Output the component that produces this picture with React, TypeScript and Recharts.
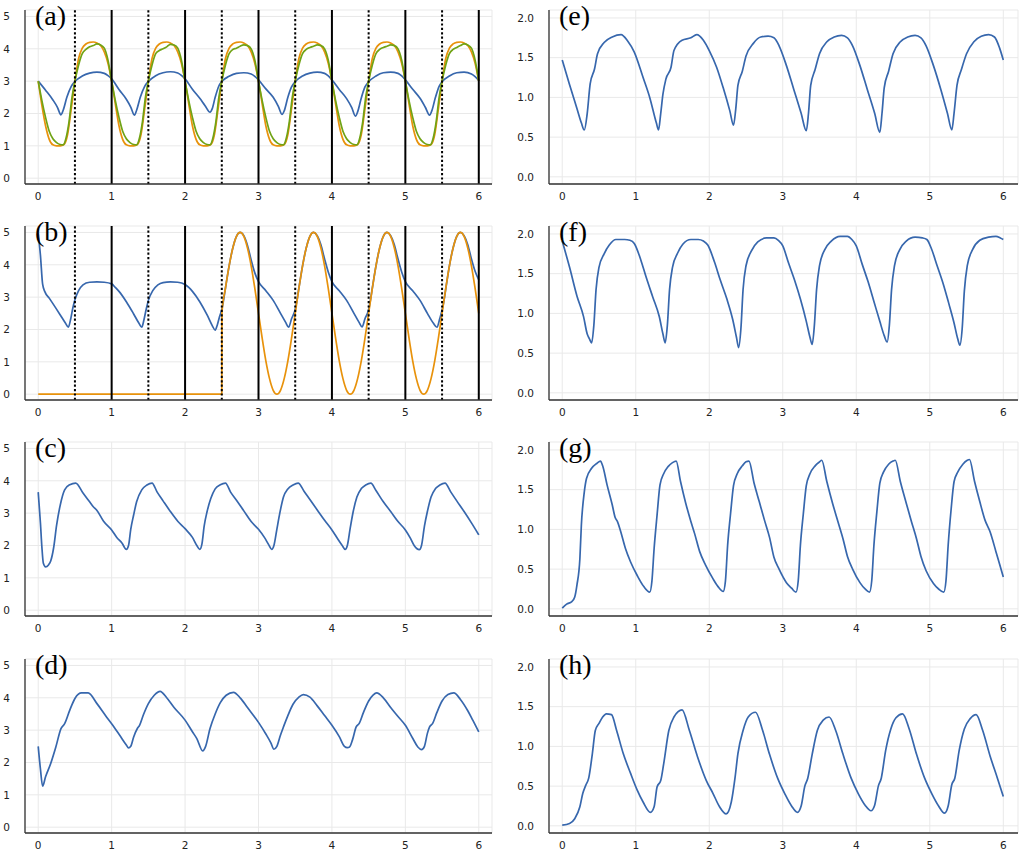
import React from 'react';
import { LineChart, Line, XAxis, YAxis, CartesianGrid, ReferenceLine } from 'recharts';

type P = [number, number];

const X_TICKS = [0, 1, 2, 3, 4, 5, 6];
const Y_TICKS_LEFT = [0, 1, 2, 3, 4, 5];
const Y_TICKS_RIGHT = [0, 0.5, 1, 1.5, 2];
const SOLID_LINES = [1, 2, 3, 4, 5, 6];
const DOTTED_LINES = [0.5, 1.5, 2.5, 3.5, 4.5, 5.5];

const BLUE = '#3767ad';
const ORANGE = '#e8920b';
const GREEN = '#70a315';

const A_BLUE: P[] = [
  [0, 3.0], [0.1, 2.72], [0.2, 2.42], [0.26, 2.2], [0.31, 1.96], [0.34, 2.1], [0.39, 2.5], [0.45, 2.84], [0.5, 2.99], [0.6, 3.16], [0.7, 3.25], [0.8, 3.28], [0.9, 3.24], [0.95, 3.17],
  [1.0, 3.07], [1.1, 2.74], [1.2, 2.44], [1.26, 2.2], [1.31, 1.95], [1.34, 2.1], [1.39, 2.5], [1.45, 2.84], [1.5, 2.99], [1.6, 3.17], [1.7, 3.26], [1.8, 3.29], [1.9, 3.25], [1.95, 3.18],
  [2.0, 3.07], [2.1, 2.75], [2.2, 2.47], [2.27, 2.25], [2.34, 2.04], [2.37, 2.15], [2.41, 2.5], [2.46, 2.85], [2.5, 2.99], [2.6, 3.15], [2.7, 3.24], [2.8, 3.26], [2.9, 3.22], [2.95, 3.15],
  [3.0, 3.04], [3.1, 2.76], [3.2, 2.5], [3.27, 2.22], [3.32, 1.97], [3.35, 2.08], [3.4, 2.5], [3.45, 2.82], [3.5, 2.98], [3.6, 3.16], [3.7, 3.25], [3.8, 3.28], [3.9, 3.24], [3.95, 3.16],
  [4.0, 3.04], [4.1, 2.74], [4.2, 2.46], [4.27, 2.18], [4.32, 1.92], [4.35, 2.05], [4.4, 2.48], [4.45, 2.82], [4.5, 2.98], [4.6, 3.16], [4.7, 3.26], [4.8, 3.28], [4.9, 3.24], [4.95, 3.16],
  [5.0, 3.04], [5.1, 2.75], [5.2, 2.47], [5.27, 2.2], [5.33, 1.95], [5.36, 2.08], [5.41, 2.5], [5.46, 2.84], [5.5, 2.98], [5.6, 3.16], [5.7, 3.26], [5.8, 3.28], [5.9, 3.22], [5.95, 3.14], [6.0, 3.02],
];

const A_ORANGE: P[] = [
  [0, 3.0], [0.05, 2.25], [0.1, 1.62], [0.15, 1.2], [0.2, 1.03], [0.25, 1.0], [0.3, 1.0], [0.35, 1.04], [0.4, 1.35], [0.45, 2.15], [0.5, 3.0], [0.55, 3.7], [0.6, 4.02], [0.65, 4.15], [0.7, 4.2], [0.75, 4.21], [0.8, 4.18], [0.85, 4.1], [0.9, 3.9], [0.95, 3.55],
  [1.0, 3.0], [1.05, 2.3], [1.1, 1.62], [1.15, 1.2], [1.2, 1.03], [1.25, 1.0], [1.3, 1.0], [1.35, 1.04], [1.4, 1.35], [1.45, 2.15], [1.5, 3.0], [1.55, 3.7], [1.6, 4.02], [1.65, 4.15], [1.7, 4.2], [1.75, 4.21], [1.8, 4.18], [1.85, 4.1], [1.9, 3.9], [1.95, 3.55],
  [2.0, 3.0], [2.05, 2.3], [2.1, 1.62], [2.15, 1.2], [2.2, 1.03], [2.25, 1.0], [2.3, 1.0], [2.35, 1.04], [2.4, 1.35], [2.45, 2.15], [2.5, 3.0], [2.55, 3.7], [2.6, 4.02], [2.65, 4.15], [2.7, 4.2], [2.75, 4.21], [2.8, 4.18], [2.85, 4.1], [2.9, 3.9], [2.95, 3.55],
  [3.0, 3.0], [3.05, 2.3], [3.1, 1.62], [3.15, 1.2], [3.2, 1.03], [3.25, 1.0], [3.3, 1.0], [3.35, 1.04], [3.4, 1.35], [3.45, 2.15], [3.5, 3.0], [3.55, 3.7], [3.6, 4.02], [3.65, 4.15], [3.7, 4.2], [3.75, 4.21], [3.8, 4.18], [3.85, 4.1], [3.9, 3.9], [3.95, 3.55],
  [4.0, 3.0], [4.05, 2.3], [4.1, 1.62], [4.15, 1.2], [4.2, 1.03], [4.25, 1.0], [4.3, 1.0], [4.35, 1.04], [4.4, 1.35], [4.45, 2.15], [4.5, 3.0], [4.55, 3.7], [4.6, 4.02], [4.65, 4.15], [4.7, 4.2], [4.75, 4.21], [4.8, 4.18], [4.85, 4.1], [4.9, 3.9], [4.95, 3.55],
  [5.0, 3.0], [5.05, 2.3], [5.1, 1.62], [5.15, 1.2], [5.2, 1.03], [5.25, 1.0], [5.3, 1.0], [5.35, 1.04], [5.4, 1.35], [5.45, 2.15], [5.5, 3.0], [5.55, 3.7], [5.6, 4.02], [5.65, 4.15], [5.7, 4.2], [5.75, 4.21], [5.8, 4.18], [5.85, 4.1], [5.9, 3.9], [5.95, 3.55], [6.0, 3.0],
];

const A_GREEN: P[] = [
  [0, 3.0], [0.05, 2.4], [0.1, 1.88], [0.15, 1.45], [0.2, 1.22], [0.25, 1.1], [0.3, 1.04], [0.34, 1.03], [0.38, 1.25], [0.42, 1.75], [0.46, 2.5], [0.5, 3.0], [0.55, 3.5], [0.6, 3.85], [0.65, 3.98], [0.7, 4.06], [0.75, 4.1], [0.8, 4.15], [0.85, 4.12], [0.9, 4.02], [0.95, 3.65],
  [1.0, 3.0], [1.05, 2.4], [1.1, 1.88], [1.15, 1.45], [1.2, 1.22], [1.25, 1.1], [1.3, 1.04], [1.34, 1.03], [1.38, 1.25], [1.42, 1.75], [1.46, 2.5], [1.5, 3.0], [1.55, 3.5], [1.6, 3.85], [1.65, 3.95], [1.7, 4.0], [1.75, 4.06], [1.8, 4.14], [1.85, 4.12], [1.9, 4.02], [1.95, 3.65],
  [2.0, 3.0], [2.05, 2.4], [2.1, 1.88], [2.15, 1.45], [2.2, 1.22], [2.25, 1.1], [2.3, 1.04], [2.34, 1.03], [2.38, 1.25], [2.42, 1.75], [2.46, 2.5], [2.5, 3.0], [2.55, 3.5], [2.6, 3.85], [2.65, 3.98], [2.7, 4.02], [2.75, 4.08], [2.8, 4.12], [2.85, 4.1], [2.9, 4.0], [2.95, 3.65],
  [3.0, 3.0], [3.05, 2.4], [3.1, 1.88], [3.15, 1.45], [3.2, 1.22], [3.25, 1.1], [3.3, 1.04], [3.34, 1.03], [3.38, 1.25], [3.42, 1.75], [3.46, 2.5], [3.5, 3.0], [3.55, 3.5], [3.6, 3.85], [3.65, 3.98], [3.7, 4.04], [3.75, 4.08], [3.8, 4.12], [3.85, 4.1], [3.9, 4.0], [3.95, 3.65],
  [4.0, 3.0], [4.05, 2.4], [4.1, 1.88], [4.15, 1.45], [4.2, 1.22], [4.25, 1.1], [4.3, 1.04], [4.34, 1.03], [4.38, 1.25], [4.42, 1.75], [4.46, 2.5], [4.5, 3.0], [4.55, 3.5], [4.6, 3.85], [4.65, 3.98], [4.7, 4.04], [4.75, 4.08], [4.8, 4.12], [4.85, 4.1], [4.9, 4.0], [4.95, 3.65],
  [5.0, 3.0], [5.05, 2.4], [5.1, 1.88], [5.15, 1.45], [5.2, 1.22], [5.25, 1.1], [5.3, 1.04], [5.34, 1.03], [5.38, 1.25], [5.42, 1.75], [5.46, 2.5], [5.5, 3.0], [5.55, 3.5], [5.6, 3.85], [5.65, 3.98], [5.7, 4.04], [5.75, 4.1], [5.8, 4.15], [5.85, 4.12], [5.9, 4.02], [5.95, 3.65], [6.0, 3.0],
];

const B_BLUE: P[] = [
  [0, 4.97], [0.03, 4.3], [0.06, 3.4], [0.09, 3.17], [0.15, 2.97], [0.2, 2.8], [0.3, 2.45], [0.37, 2.2], [0.41, 2.07], [0.44, 2.3], [0.47, 2.65], [0.5, 2.92], [0.55, 3.2], [0.61, 3.38], [0.7, 3.46], [0.8, 3.47], [0.9, 3.46], [1.0, 3.41],
  [1.05, 3.3], [1.1, 3.18], [1.2, 2.86], [1.3, 2.48], [1.37, 2.2], [1.41, 2.07], [1.44, 2.3], [1.47, 2.62], [1.5, 2.9], [1.56, 3.2], [1.63, 3.38], [1.7, 3.45], [1.8, 3.47], [1.9, 3.46], [2.0, 3.39],
  [2.05, 3.3], [2.1, 3.18], [2.2, 2.86], [2.3, 2.45], [2.37, 2.12], [2.41, 1.98], [2.44, 2.15], [2.47, 2.4], [2.5, 2.62],
  [2.52, 2.85], [2.55, 3.28], [2.6, 3.97], [2.65, 4.52], [2.7, 4.88], [2.75, 5.0], [2.8, 4.9], [2.85, 4.6], [2.9, 4.15], [2.95, 3.75], [3.0, 3.48],
  [3.1, 3.2], [3.2, 2.9], [3.3, 2.5], [3.37, 2.22], [3.41, 2.07], [3.45, 2.33], [3.5, 2.62], [3.52, 2.85], [3.55, 3.28], [3.6, 3.97], [3.65, 4.52], [3.7, 4.88], [3.75, 5.0], [3.8, 4.9], [3.85, 4.62], [3.9, 4.18], [3.95, 3.78], [4.0, 3.48],
  [4.1, 3.2], [4.2, 2.9], [4.3, 2.5], [4.37, 2.22], [4.41, 2.08], [4.45, 2.33], [4.5, 2.62], [4.52, 2.85], [4.55, 3.28], [4.6, 3.97], [4.65, 4.52], [4.7, 4.88], [4.75, 5.0], [4.8, 4.9], [4.85, 4.62], [4.9, 4.18], [4.95, 3.78], [5.0, 3.48],
  [5.1, 3.2], [5.2, 2.9], [5.3, 2.5], [5.38, 2.2], [5.43, 2.07], [5.47, 2.35], [5.51, 2.7], [5.53, 2.95], [5.56, 3.4], [5.6, 3.97], [5.65, 4.52], [5.7, 4.88], [5.75, 5.0], [5.8, 4.9], [5.85, 4.62], [5.9, 4.18], [5.95, 3.8], [6.0, 3.53],
];

const B_ORANGE: P[] = [
  [0, 0], [2.5, 0], [2.502, 2.52], [2.55, 3.28], [2.6, 3.97], [2.65, 4.52], [2.7, 4.88], [2.75, 5.0], [2.8, 4.88], [2.85, 4.52], [2.9, 3.97], [2.95, 3.27],
  [3.0, 2.5], [3.05, 1.73], [3.1, 1.03], [3.15, 0.48], [3.2, 0.12], [3.25, 0.0], [3.3, 0.12], [3.35, 0.48], [3.4, 1.03], [3.45, 1.73], [3.5, 2.5], [3.55, 3.27], [3.6, 3.97], [3.65, 4.52], [3.7, 4.88], [3.75, 5.0], [3.8, 4.88], [3.85, 4.52], [3.9, 3.97], [3.95, 3.27],
  [4.0, 2.5], [4.05, 1.73], [4.1, 1.03], [4.15, 0.48], [4.2, 0.12], [4.25, 0.0], [4.3, 0.12], [4.35, 0.48], [4.4, 1.03], [4.45, 1.73], [4.5, 2.5], [4.55, 3.27], [4.6, 3.97], [4.65, 4.52], [4.7, 4.88], [4.75, 5.0], [4.8, 4.88], [4.85, 4.52], [4.9, 3.97], [4.95, 3.27],
  [5.0, 2.5], [5.05, 1.73], [5.1, 1.03], [5.15, 0.48], [5.2, 0.12], [5.25, 0.0], [5.3, 0.12], [5.35, 0.48], [5.4, 1.03], [5.45, 1.73], [5.5, 2.5], [5.55, 3.27], [5.6, 3.97], [5.65, 4.52], [5.7, 4.88], [5.75, 5.0], [5.8, 4.88], [5.85, 4.52], [5.9, 3.97], [5.95, 3.27], [6.0, 2.5],
];

const C_BLUE: P[] = [
  [0, 3.65], [0.03, 2.7], [0.05, 1.95], [0.07, 1.45], [0.1, 1.34], [0.14, 1.4], [0.17, 1.52], [0.21, 1.93], [0.25, 2.62], [0.3, 3.25], [0.36, 3.72], [0.43, 3.88], [0.51, 3.93], [0.61, 3.62], [0.7, 3.35], [0.75, 3.2], [0.8, 3.08], [0.89, 2.75], [1.0, 2.48], [1.07, 2.25], [1.14, 2.08], [1.2, 1.88],
  [1.23, 2.0], [1.26, 2.5], [1.3, 2.95], [1.34, 3.35], [1.41, 3.72], [1.48, 3.87], [1.55, 3.93], [1.62, 3.65], [1.7, 3.38], [1.8, 3.05], [1.9, 2.75], [2.0, 2.52], [2.1, 2.25], [2.16, 2.0], [2.2, 1.88],
  [2.23, 2.05], [2.26, 2.6], [2.3, 3.05], [2.35, 3.45], [2.41, 3.75], [2.48, 3.88], [2.55, 3.93], [2.62, 3.65], [2.7, 3.4], [2.8, 3.07], [2.9, 2.74], [3.0, 2.5], [3.08, 2.25], [3.14, 2.02], [3.18, 1.88],
  [3.21, 2.0], [3.25, 2.5], [3.29, 3.0], [3.34, 3.5], [3.4, 3.75], [3.47, 3.87], [3.54, 3.93], [3.62, 3.68], [3.7, 3.42], [3.8, 3.1], [3.9, 2.78], [4.0, 2.48], [4.08, 2.2], [4.14, 2.0], [4.18, 1.88],
  [4.21, 2.0], [4.25, 2.55], [4.29, 3.05], [4.34, 3.5], [4.4, 3.76], [4.46, 3.87], [4.53, 3.93], [4.6, 3.7], [4.7, 3.35], [4.8, 3.05], [4.9, 2.74], [5.0, 2.48], [5.07, 2.22], [5.12, 2.0], [5.19, 1.87],
  [5.22, 2.0], [5.26, 2.6], [5.3, 3.05], [5.35, 3.5], [5.41, 3.76], [5.47, 3.87], [5.54, 3.93], [5.62, 3.65], [5.7, 3.38], [5.8, 3.05], [5.9, 2.7], [6.0, 2.33],
];

const D_BLUE: P[] = [
  [0, 2.5], [0.03, 1.8], [0.06, 1.27], [0.1, 1.56], [0.17, 1.97], [0.24, 2.48], [0.31, 3.05], [0.36, 3.2], [0.43, 3.62], [0.5, 3.98], [0.59, 4.15], [0.68, 4.15], [0.8, 3.82], [0.93, 3.41], [1.0, 3.2], [1.11, 2.84], [1.2, 2.54], [1.23, 2.45],
  [1.26, 2.5], [1.3, 2.79], [1.35, 3.05], [1.38, 3.15], [1.43, 3.46], [1.5, 3.82], [1.58, 4.08], [1.66, 4.2], [1.75, 4.0], [1.85, 3.7], [2.0, 3.31], [2.1, 2.95], [2.16, 2.74], [2.24, 2.36],
  [2.28, 2.5], [2.34, 3.05], [2.41, 3.5], [2.48, 3.85], [2.56, 4.08], [2.66, 4.17], [2.75, 4.0], [2.85, 3.7], [3.0, 3.24], [3.1, 2.88], [3.17, 2.6], [3.21, 2.41],
  [3.25, 2.5], [3.3, 2.85], [3.34, 3.1], [3.4, 3.45], [3.47, 3.8], [3.55, 4.02], [3.61, 4.1], [3.7, 4.02], [3.8, 3.75], [3.9, 3.45], [4.0, 3.15], [4.1, 2.8], [4.17, 2.5], [4.21, 2.46], [4.24, 2.48],
  [4.28, 2.7], [4.33, 3.1], [4.37, 3.2], [4.43, 3.55], [4.5, 3.9], [4.56, 4.08], [4.61, 4.15], [4.7, 4.0], [4.8, 3.7], [4.9, 3.42], [5.0, 3.15], [5.1, 2.75], [5.17, 2.48], [5.22, 2.4],
  [5.26, 2.5], [5.3, 2.9], [5.33, 3.1], [5.37, 3.2], [5.43, 3.55], [5.5, 3.9], [5.58, 4.1], [5.66, 4.15], [5.75, 3.95], [5.85, 3.6], [5.92, 3.3], [6.0, 2.95],
];

const E_BLUE: P[] = [
  [0, 1.47], [0.1, 1.16], [0.2, 0.86], [0.26, 0.68], [0.3, 0.59], [0.34, 0.8], [0.38, 1.17], [0.44, 1.36], [0.48, 1.55], [0.57, 1.69], [0.68, 1.76], [0.8, 1.79], [0.89, 1.71], [0.98, 1.57], [1.1, 1.25], [1.19, 1.0], [1.28, 0.68], [1.31, 0.59],
  [1.34, 0.8], [1.37, 1.04], [1.41, 1.23], [1.48, 1.38], [1.52, 1.59], [1.63, 1.72], [1.75, 1.75], [1.83, 1.79], [1.92, 1.72], [2.0, 1.59], [2.1, 1.38], [2.19, 1.12], [2.28, 0.83], [2.33, 0.65],
  [2.36, 0.85], [2.39, 1.15], [2.45, 1.33], [2.5, 1.52], [2.6, 1.68], [2.7, 1.76], [2.8, 1.77], [2.88, 1.75], [2.95, 1.65], [3.05, 1.4], [3.15, 1.1], [3.25, 0.8], [3.32, 0.58],
  [3.35, 0.8], [3.38, 1.15], [3.44, 1.35], [3.5, 1.55], [3.6, 1.7], [3.7, 1.76], [3.8, 1.78], [3.88, 1.75], [3.95, 1.65], [4.05, 1.4], [4.15, 1.1], [4.25, 0.8], [4.32, 0.56],
  [4.35, 0.8], [4.38, 1.12], [4.44, 1.33], [4.5, 1.55], [4.6, 1.7], [4.7, 1.76], [4.8, 1.78], [4.88, 1.75], [4.95, 1.65], [5.05, 1.4], [5.15, 1.1], [5.24, 0.8], [5.3, 0.59],
  [5.33, 0.8], [5.37, 1.15], [5.43, 1.35], [5.5, 1.55], [5.6, 1.7], [5.7, 1.77], [5.8, 1.79], [5.88, 1.76], [5.95, 1.62], [6.0, 1.47],
];

const F_BLUE: P[] = [
  [0, 1.91], [0.1, 1.58], [0.2, 1.22], [0.29, 0.96], [0.34, 0.74], [0.37, 0.68], [0.4, 0.63], [0.43, 0.85], [0.46, 1.3], [0.5, 1.58], [0.57, 1.75], [0.64, 1.86], [0.73, 1.93], [0.85, 1.93], [0.92, 1.92], [0.98, 1.88], [1.07, 1.67], [1.14, 1.46], [1.23, 1.21], [1.32, 0.96], [1.37, 0.74], [1.4, 0.63],
  [1.43, 0.85], [1.46, 1.3], [1.5, 1.58], [1.57, 1.76], [1.64, 1.87], [1.75, 1.93], [1.85, 1.93], [1.92, 1.91], [1.98, 1.86], [2.07, 1.65], [2.15, 1.42], [2.24, 1.18], [2.32, 0.92], [2.37, 0.7], [2.4, 0.57],
  [2.43, 0.8], [2.46, 1.3], [2.5, 1.6], [2.57, 1.78], [2.66, 1.9], [2.78, 1.95], [2.88, 1.95], [2.94, 1.92], [3.0, 1.85], [3.08, 1.63], [3.16, 1.42], [3.24, 1.18], [3.32, 0.9], [3.37, 0.7], [3.4, 0.61],
  [3.43, 0.85], [3.46, 1.3], [3.5, 1.6], [3.57, 1.8], [3.66, 1.91], [3.78, 1.97], [3.88, 1.97], [3.94, 1.93], [4.0, 1.85], [4.08, 1.62], [4.16, 1.4], [4.24, 1.15], [4.32, 0.9], [4.38, 0.72], [4.42, 0.64],
  [4.45, 0.85], [4.48, 1.3], [4.52, 1.6], [4.59, 1.8], [4.68, 1.91], [4.8, 1.96], [4.9, 1.95], [4.96, 1.93], [5.02, 1.82], [5.1, 1.6], [5.18, 1.38], [5.26, 1.12], [5.33, 0.88], [5.38, 0.68], [5.41, 0.6],
  [5.44, 0.8], [5.47, 1.28], [5.51, 1.6], [5.58, 1.8], [5.68, 1.92], [5.8, 1.96], [5.9, 1.97], [5.96, 1.95], [6.0, 1.93],
];

const G_BLUE: P[] = [
  [0, 0.01], [0.06, 0.06], [0.13, 0.09], [0.17, 0.15], [0.2, 0.3], [0.24, 0.63], [0.26, 1.05], [0.3, 1.47], [0.33, 1.64], [0.4, 1.77], [0.47, 1.83], [0.52, 1.86], [0.55, 1.8], [0.61, 1.56], [0.68, 1.31], [0.72, 1.15], [0.75, 1.1], [0.79, 0.99], [0.86, 0.76], [0.93, 0.59], [1.02, 0.42], [1.11, 0.28], [1.19, 0.21],
  [1.22, 0.35], [1.25, 0.76], [1.29, 1.18], [1.33, 1.56], [1.38, 1.7], [1.44, 1.79], [1.5, 1.84], [1.55, 1.86], [1.61, 1.6], [1.68, 1.33], [1.75, 1.1], [1.8, 0.95], [1.87, 0.72], [1.95, 0.55], [2.05, 0.38], [2.12, 0.28], [2.19, 0.22],
  [2.22, 0.35], [2.25, 0.8], [2.29, 1.2], [2.33, 1.55], [2.38, 1.7], [2.45, 1.8], [2.5, 1.85], [2.54, 1.86], [2.61, 1.58], [2.68, 1.35], [2.75, 1.12], [2.82, 0.9], [2.88, 0.65], [2.95, 0.5], [3.05, 0.33], [3.12, 0.26], [3.18, 0.21],
  [3.21, 0.35], [3.24, 0.8], [3.28, 1.2], [3.32, 1.55], [3.37, 1.7], [3.44, 1.8], [3.5, 1.85], [3.53, 1.87], [3.6, 1.6], [3.68, 1.32], [3.75, 1.1], [3.82, 0.88], [3.88, 0.66], [3.95, 0.5], [4.05, 0.33], [4.12, 0.25], [4.18, 0.21],
  [4.21, 0.35], [4.24, 0.8], [4.28, 1.22], [4.32, 1.58], [4.37, 1.72], [4.44, 1.82], [4.5, 1.86], [4.53, 1.87], [4.6, 1.6], [4.68, 1.33], [4.75, 1.1], [4.82, 0.88], [4.88, 0.66], [4.95, 0.48], [5.05, 0.32], [5.12, 0.25], [5.19, 0.21],
  [5.22, 0.35], [5.25, 0.8], [5.29, 1.25], [5.33, 1.6], [5.38, 1.72], [5.45, 1.82], [5.51, 1.87], [5.54, 1.88], [5.61, 1.6], [5.68, 1.35], [5.75, 1.12], [5.82, 0.97], [5.9, 0.72], [5.95, 0.56], [6.0, 0.4],
];

const H_BLUE: P[] = [
  [0, 0.01], [0.1, 0.03], [0.17, 0.09], [0.24, 0.24], [0.28, 0.41], [0.32, 0.51], [0.36, 0.6], [0.41, 0.91], [0.45, 1.2], [0.5, 1.29], [0.55, 1.37], [0.6, 1.41], [0.67, 1.4], [0.74, 1.2], [0.83, 0.91], [0.93, 0.66], [1.02, 0.45], [1.1, 0.3], [1.2, 0.17],
  [1.25, 0.24], [1.29, 0.49], [1.34, 0.57], [1.38, 0.78], [1.45, 1.2], [1.52, 1.37], [1.63, 1.46], [1.73, 1.2], [1.84, 0.87], [1.96, 0.57], [2.05, 0.41], [2.14, 0.24], [2.23, 0.15],
  [2.3, 0.3], [2.35, 0.6], [2.39, 0.91], [2.46, 1.2], [2.53, 1.37], [2.63, 1.43], [2.72, 1.22], [2.82, 0.9], [2.93, 0.6], [3.03, 0.4], [3.12, 0.25], [3.2, 0.17],
  [3.25, 0.25], [3.3, 0.5], [3.34, 0.6], [3.4, 0.9], [3.47, 1.2], [3.55, 1.33], [3.63, 1.37], [3.72, 1.2], [3.82, 0.9], [3.93, 0.6], [4.03, 0.4], [4.12, 0.26], [4.2, 0.19],
  [4.25, 0.26], [4.3, 0.5], [4.34, 0.6], [4.4, 0.95], [4.47, 1.22], [4.54, 1.36], [4.63, 1.41], [4.72, 1.22], [4.82, 0.9], [4.93, 0.6], [5.03, 0.4], [5.12, 0.25], [5.2, 0.16],
  [5.25, 0.25], [5.3, 0.52], [5.34, 0.6], [5.4, 0.95], [5.47, 1.22], [5.55, 1.35], [5.63, 1.4], [5.72, 1.2], [5.82, 0.88], [5.92, 0.6], [6.0, 0.37],
];

type Series = { data: P[]; color: string };

const toData = (arr: P[]) => arr.map(([t, v]) => ({ t, v }));

const TICK_STYLE = { fontSize: 10.5, fill: '#222', fontFamily: 'DejaVu Sans' };
const CHART_H = 216;

function Panel(props: {
  left: number;
  top: number;
  width: number;
  yAxisWidth: number;
  rightMargin: number;
  xDomain: [number, number];
  yDomain: [number, number];
  yTicks: number[];
  fmt?: (v: number) => string;
  series: Series[];
  vlines?: boolean;
  label: string;
}) {
  const { left, top, width, yAxisWidth, rightMargin, xDomain, yDomain, yTicks, fmt, series, vlines, label } = props;
  return (
    <div style={{ position: 'absolute', left, top, width, height: CHART_H }}>
      <LineChart width={width} height={CHART_H} margin={{ top: 10, right: rightMargin, bottom: 0, left: 0 }}>
        <CartesianGrid stroke="#e9e9e9" strokeWidth={1} />
        <XAxis
          type="number"
          dataKey="t"
          domain={xDomain}
          ticks={X_TICKS}
          interval={0}
          allowDataOverflow
          tickLine={false}
          tickSize={0}
          tickMargin={9}
          height={32}
          axisLine={{ stroke: '#333', strokeWidth: 1.3 }}
          tick={TICK_STYLE}
        />
        <YAxis
          type="number"
          domain={yDomain}
          ticks={yTicks}
          interval={0}
          allowDataOverflow
          width={yAxisWidth}
          tickLine={false}
          tickSize={0}
          tickMargin={15}
          axisLine={{ stroke: '#333', strokeWidth: 1.3 }}
          tick={TICK_STYLE}
          tickFormatter={fmt}
        />
        {series.map((s, i) => (
          <Line
            key={i}
            data={toData(s.data)}
            dataKey="v"
            type="monotone"
            stroke={s.color}
            strokeWidth={1.7}
            dot={false}
            activeDot={false}
            isAnimationActive={false}
          />
        ))}
        {vlines &&
          DOTTED_LINES.map((x) => (
            <ReferenceLine key={'d' + x} x={x} stroke="#000" strokeWidth={2} strokeDasharray="2.2 2.2" />
          ))}
        {vlines &&
          SOLID_LINES.map((x) => <ReferenceLine key={'s' + x} x={x} stroke="#000" strokeWidth={2} />)}
      </LineChart>
      <div
        style={{
          position: 'absolute',
          left: yAxisWidth + 10,
          top: 2,
          fontFamily: '"Liberation Serif", serif',
          fontSize: 28,
          lineHeight: '28px',
          color: '#000',
          pointerEvents: 'none',
        }}
      >
        {label}
      </div>
    </div>
  );
}

const LEFT_TOPS = [0, 216, 432, 649];
const fmt1 = (v: number) => v.toFixed(1);

export default function App() {
  const leftSeries: Series[][] = [
    [
      { data: A_BLUE, color: BLUE },
      { data: A_ORANGE, color: ORANGE },
      { data: A_GREEN, color: GREEN },
    ],
    [
      { data: B_BLUE, color: BLUE },
      { data: B_ORANGE, color: ORANGE },
    ],
    [{ data: C_BLUE, color: BLUE }],
    [{ data: D_BLUE, color: BLUE }],
  ];
  const rightSeries: Series[][] = [
    [{ data: E_BLUE, color: BLUE }],
    [{ data: F_BLUE, color: BLUE }],
    [{ data: G_BLUE, color: BLUE }],
    [{ data: H_BLUE, color: BLUE }],
  ];
  const leftLabels = ['(a)', '(b)', '(c)', '(d)'];
  const rightLabels = ['(e)', '(f)', '(g)', '(h)'];
  return (
    <div
      style={{
        position: 'absolute',
        left: 0,
        top: 0,
        width: 1021,
        height: 852,
        overflow: 'hidden',
        background: '#fff',
      }}
    >
      {LEFT_TOPS.map((top, i) => (
        <Panel
          key={'l' + i}
          left={0}
          top={top}
          width={500}
          yAxisWidth={25}
          rightMargin={8}
          xDomain={[-0.18, 6.18]}
          yDomain={[-0.18, 5.2]}
          yTicks={Y_TICKS_LEFT}
          series={leftSeries[i]}
          vlines={i < 2}
          label={leftLabels[i]}
        />
      ))}
      {LEFT_TOPS.map((top, i) => (
        <Panel
          key={'r' + i}
          left={500}
          top={top}
          width={521}
          yAxisWidth={49}
          rightMargin={3}
          xDomain={[-0.18, 6.2]}
          yDomain={[-0.09, 2.1]}
          yTicks={Y_TICKS_RIGHT}
          fmt={fmt1}
          series={rightSeries[i]}
          label={rightLabels[i]}
        />
      ))}
    </div>
  );
}
